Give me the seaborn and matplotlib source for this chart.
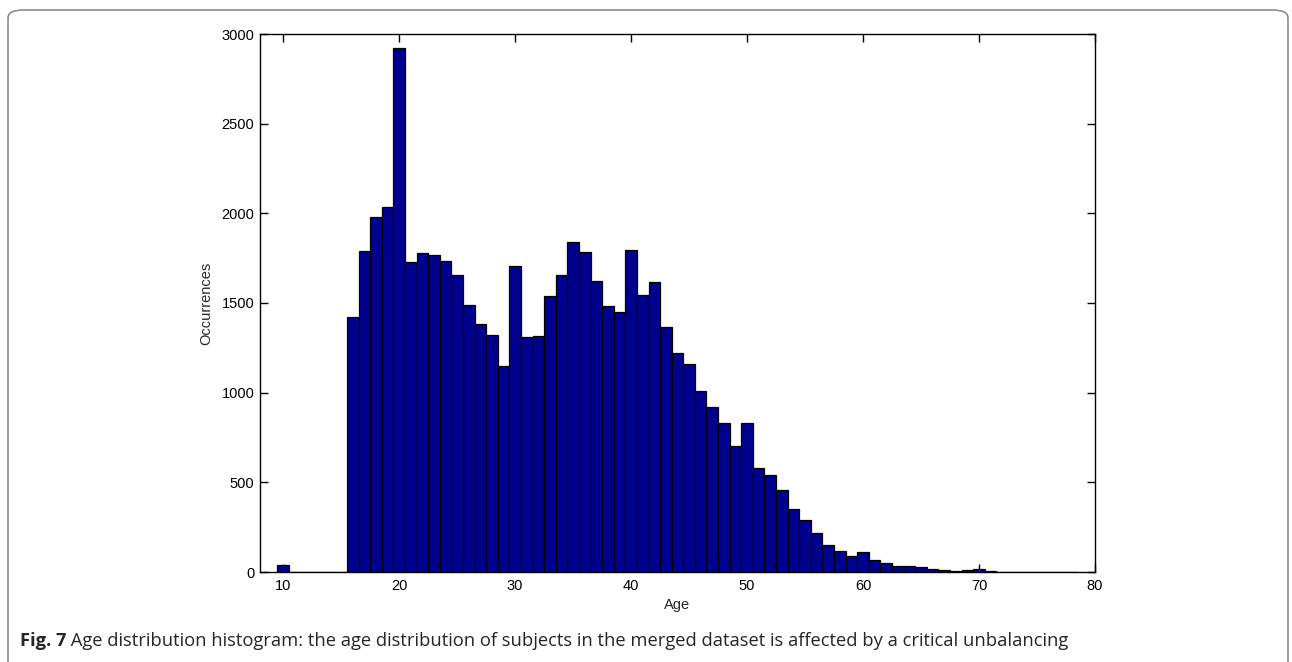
import numpy as np
import pandas as pd
import matplotlib
matplotlib.use("Agg")
import matplotlib.pyplot as plt
from matplotlib.patches import FancyBboxPatch
import seaborn as sns

# ---- data ----
ages = [10] + list(range(16, 79))
counts = [40,
          1423, 1790, 1981, 2037, 2921, 1730, 1778, 1770, 1734, 1656,   # 16-25
          1489, 1384, 1320, 1151, 1706, 1310, 1318, 1539, 1656, 1842,   # 26-35
          1783, 1621, 1481, 1448, 1794, 1543, 1619, 1368, 1223, 1158,   # 36-45
          1008, 918, 833, 704, 829, 582, 541, 457, 349, 290,            # 46-55
          216, 151, 118, 89, 111, 67, 48, 35, 35, 26,                   # 56-65
          17, 13, 7, 9, 17, 4, 2, 2, 1, 1,                              # 66-75
          1, 1, 1]                                                      # 76-78
x_ticks = [10, 20, 30, 40, 50, 60, 70, 80]
y_ticks = [0, 500, 1000, 1500, 2000, 2500, 3000]
x_label = "Age"
y_label = "Occurrences"
caption_bold = "Fig. 7"
caption_text = (" Age distribution histogram: the age distribution of subjects in the "
                "merged dataset is affected by a critical unbalancing")

df = pd.DataFrame({"age": ages, "count": counts})

sns.set_style("white")
plt.rcParams["font.family"] = ["Liberation Sans", "DejaVu Sans"]

fig = plt.figure(figsize=(12.92, 6.62), dpi=100)
ax = fig.add_axes([260 / 1292, 1 - 572 / 662, (1095 - 260) / 1292, (572 - 34) / 662])

sns.histplot(data=df, x="age", weights="count", discrete=True, ax=ax,
             color="#00008F", edgecolor="black", linewidth=0.9, alpha=1.0)

ax.set_xlim(8, 80)
ax.set_ylim(0, 3000)
ax.set_xticks(x_ticks)
ax.set_yticks(y_ticks)
ax.set_xlabel(x_label, fontsize=10.5, labelpad=4)
ax.set_ylabel(y_label, fontsize=10.5, labelpad=6)
ax.tick_params(direction="in", length=6, width=1, labelsize=10.5,
               top=True, right=True, bottom=True, left=True, pad=5, colors="black")
ax.tick_params(axis="y", pad=4)
for s in ax.spines.values():
    s.set_visible(True)
    s.set_color("black")
    s.set_linewidth(1.0)
ax.set_facecolor("white")

# figure frame with rounded corners
frame = FancyBboxPatch((8 / 1292, -0.05), (1288 - 8) / 1292, 1 - 10 / 662 + 0.05,
                       boxstyle="round,pad=0,rounding_size=0.012",
                       transform=fig.transFigure, fill=False,
                       edgecolor="#8c8c8c", linewidth=1.2, zorder=0)
fig.patches.append(frame)

# caption
cap_y = 1 - 646 / 662
t1 = fig.text(20 / 1292, cap_y, caption_bold, fontsize=13.2,
              fontweight="bold", family=["Open Sans", "DejaVu Sans"], va="baseline")
fig.canvas.draw()
bb = t1.get_window_extent()
fig.text(bb.x1 / fig.bbox.width, cap_y, caption_text, fontsize=13.2,
         family=["Open Sans", "DejaVu Sans"], va="baseline")

fig.savefig("out.png", dpi=100)
